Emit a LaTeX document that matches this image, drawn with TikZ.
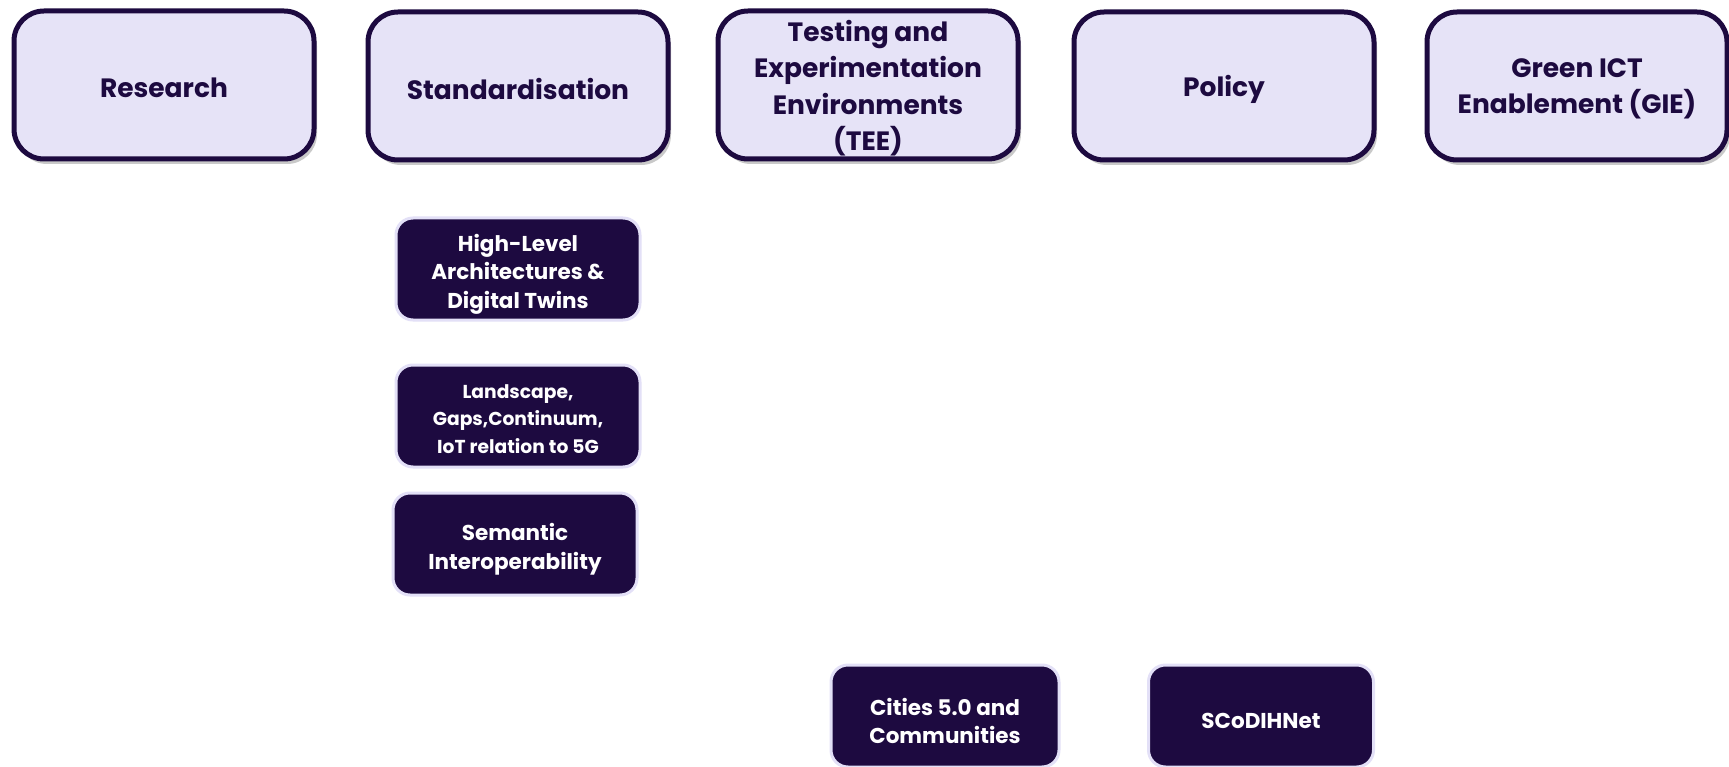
\documentclass[tikz,border=0pt]{standalone}
\usepackage{fontspec}
\setmainfont{Poppins}
\usetikzlibrary{shadows}
\definecolor{dark}{HTML}{1D0A40}
\definecolor{lav}{HTML}{E6E3F7}
\definecolor{lavline}{HTML}{E3E0F7}
\begin{document}
\begin{tikzpicture}[x=1pt,y=-1pt,
  topbox/.style={draw=dark, line width=5pt, fill=lav, rounded corners=30pt,
    minimum width=300pt, minimum height=148pt, inner sep=0pt,
    drop shadow={shadow xshift=3pt, shadow yshift=-5pt, opacity=0.35, fill=black!60}},
  toptext/.style={align=center, inner sep=0pt, text=dark, yshift=-3pt,
    font=\fontsize{26.5}{36.5}\selectfont\bfseries},
  subbox/.style={draw=lavline, line width=3pt, fill=dark, rounded corners=17pt,
    minimum width=244pt, minimum height=102pt, inner sep=0pt},
  subtext/.style={align=center, inner sep=0pt, text=white, yshift=-5pt,
    font=\fontsize{21.5}{28.5}\selectfont\bfseries},
  smalltext/.style={subtext, yshift=2pt, font=\fontsize{18.7}{27.5}\selectfont\bfseries}]
\useasboundingbox (0,0) rectangle (1729,767);
\fill[white] (0,0) rectangle (1729,767);
\node[topbox] (res) at (164,85) {};
\node[topbox] (std) at (518,86) {};
\node[topbox] (tee) at (868,85) {};
\node[topbox] (pol) at (1224,86) {};
\node[topbox] (gie) at (1577,86) {};
\node[toptext] (res-t) at (res.center) {Research};
\node[toptext] (std-t) at (std.center) {Standardisation};
\node[toptext] (tee-t) at (tee.center) {Testing and\\Experimentation\\Environments\\(TEE)};
\node[toptext] (pol-t) at (pol.center) {Policy};
\node[toptext] (gie-t) at (gie.center) {Green ICT\\Enablement (GIE)};
\node[subbox] (hla) at (518,269) {};
\node[subbox] (lgc) at (518,416) {};
\node[subbox] (sem) at (515,544) {};
\node[subbox, minimum width=228pt] (cit) at (945,716) {};
\node[subbox, minimum width=225pt] (sco) at (1261,716) {};
\node[subtext] (hla-t) at (hla.center) {High-Level\\Architectures \&\\Digital Twins};
\node[smalltext] (lgc-t) at (lgc.center) {Landscape,\\Gaps,Continuum,\\IoT relation to 5G};
\node[subtext] (sem-t) at (sem.center) {Semantic\\Interoperability};
\node[subtext] (cit-t) at (cit.center) {Cities 5.0 and\\Communities};
\node[subtext] (sco-t) at (sco.center) {SCoDIHNet};
\end{tikzpicture}
\end{document}
